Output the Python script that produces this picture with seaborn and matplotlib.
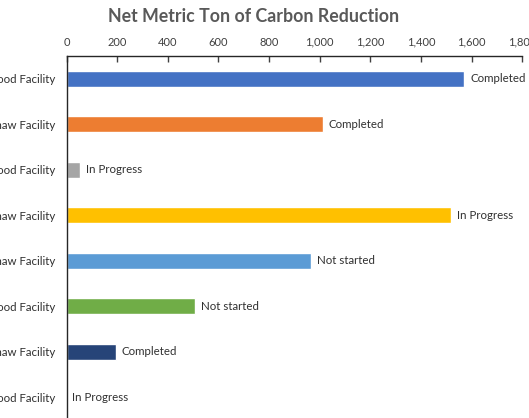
import matplotlib
matplotlib.use("Agg")
import matplotlib.pyplot as plt
import seaborn as sns
import pandas as pd
from matplotlib.ticker import FuncFormatter

# Carbon reduction per project and facility
projects = [
    "Lighting Retrofit – Kirkwood Facility",
    "Lighting Retrofit – Bradshaw Facility",
    "HVAC Upgrade – Kirkwood Facility",
    "HVAC Upgrade – Bradshaw Facility",
    "Solar Array – Bradshaw Facility",
    "Solar Array – Kirkwood Facility",
    "Boiler Replacement – Bradshaw Facility",
    "Boiler Replacement – Kirkwood Facility",
]
tick_labels = [
    "Kirkwood Facility",
    "Bradshaw Facility",
    "Kirkwood Facility",
    "Bradshaw Facility",
    "Bradshaw Facility",
    "Kirkwood Facility",
    "Bradshaw Facility",
    "Kirkwood Facility",
]
reduction = [1570, 1013, 52, 1518, 964, 508, 194, 0]
status = ["Completed", "Completed", "In Progress", "In Progress",
          "Not started", "Not started", "Completed", "In Progress"]
colors = ["#4472C4", "#ED7D31", "#A5A5A5", "#FFC000",
          "#5B9BD5", "#70AD47", "#264478", "#9E480E"]
x_ticks = [0, 200, 400, 600, 800, 1000, 1200, 1400, 1600, 1800]

sns.set_theme(style="white")
plt.rcParams["font.family"] = ["Lato", "DejaVu Sans"]

df = pd.DataFrame({"project": projects, "reduction": reduction})

W, H = 529, 418
fig = plt.figure(figsize=(W / 100, H / 100), dpi=100)
ax = fig.add_axes([66.5 / W, -2 / H, (522.3 - 66.5) / W, (420 - 56) / H])

sns.barplot(data=df, x="reduction", y="project", hue="project",
            palette=colors, legend=False, width=0.35, orient="h",
            saturation=1, ax=ax)

ax.set_xlim(0, 1800)
ax.set_ylim(7.5, -0.5)
ax.set_xticks(x_ticks)
ax.xaxis.set_major_formatter(FuncFormatter(lambda v, p: f"{int(v):,}"))
ax.xaxis.tick_top()
ax.tick_params(axis="x", which="major", direction="in", length=4, width=1,
               color="#404040", labelsize=8, labelcolor="#404040", pad=6)
ax.set_yticks(range(len(projects)))
ax.set_yticklabels(tick_labels)
ax.tick_params(axis="y", length=0, labelsize=8.3, labelcolor="#303030", pad=8)
ax.set_xlabel("")
ax.set_ylabel("")

for side in ["right", "bottom"]:
    ax.spines[side].set_visible(False)
for side in ["top", "left"]:
    ax.spines[side].set_color("#262626")
    ax.spines[side].set_linewidth(1.0)

for i, (v, s) in enumerate(zip(reduction, status)):
    ax.annotate(s, xy=(v, i), xytext=(4.3, 0), textcoords="offset points",
                va="center", ha="left", fontsize=8.3, color="#303030")

fig.text(254 / W, 1 - 17 / H, "Net Metric Ton of Carbon Reduction",
         ha="center", va="center", fontsize=12.8, fontweight="bold",
         color="#595959")

fig.savefig("out.png", dpi=100)
